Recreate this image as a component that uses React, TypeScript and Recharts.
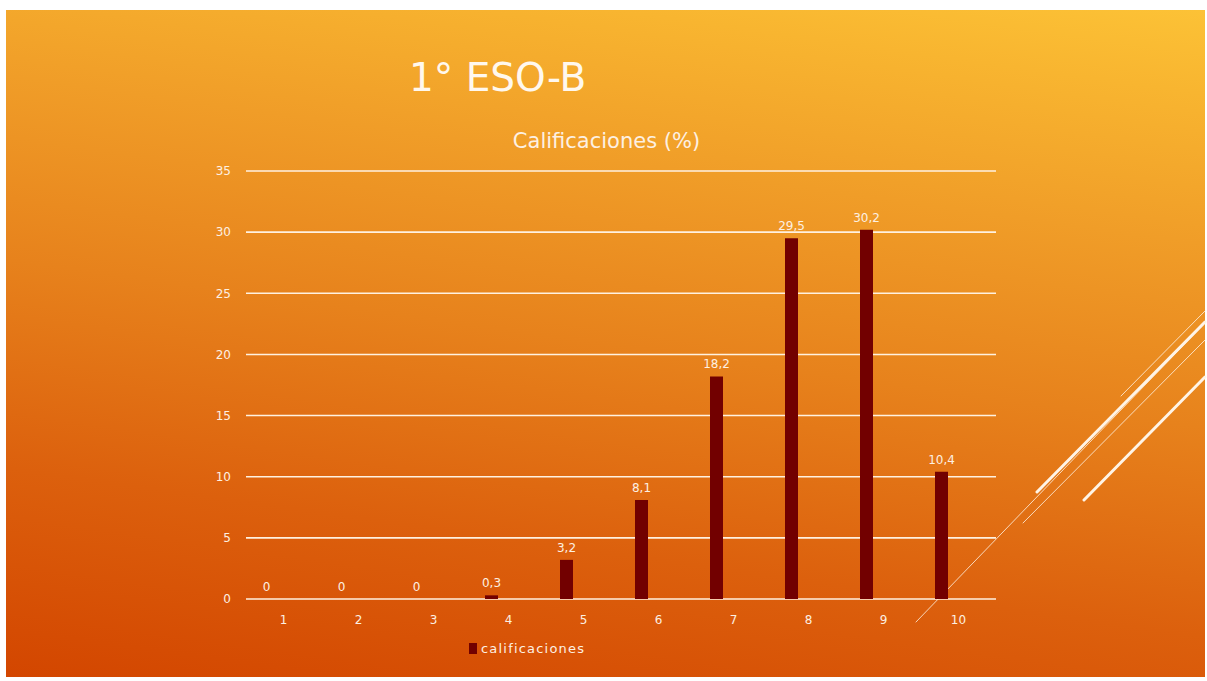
import React from 'react';
import { Bar, BarChart, CartesianGrid, LabelList, Legend, XAxis, YAxis } from 'recharts';

// Notas de 1 a 10 y porcentaje de alumnos en cada una
const notas = ['1', '2', '3', '4', '5', '6', '7', '8', '9', '10'];
const calificaciones = [0, 0, 0, 0.3, 3.2, 8.1, 18.2, 29.5, 30.2, 10.4];
// serie vacía del original (sólo ocupa su hueco junto a la barra)
const serieVacia = [null, null, null, null, null, null, null, null, null, null];
const ticksY = [0, 5, 10, 15, 20, 25, 30, 35];

const data = notas.map((nota, i) => ({
  nota,
  calificaciones: calificaciones[i],
  vacia: serieVacia[i],
}));

const FONT = '"DejaVu Sans", sans-serif';
const TEXT = '#FDF0E2';
const BAR = '#720000';

const formatComa = (v: unknown) => (v == null ? '' : String(v).replace('.', ','));

function LeyendaCalificaciones() {
  return (
    <div style={{ display: 'flex', alignItems: 'center', fontFamily: FONT, fontSize: 13, lineHeight: '15px', color: TEXT, letterSpacing: 1.2 }}>
      <span style={{ display: 'inline-block', width: 8, height: 11, background: BAR, marginRight: 4 }} />
      calificaciones
    </div>
  );
}

export default function App() {
  return (
    <div style={{ position: 'absolute', left: 0, top: 0, width: 1207, height: 681, background: '#fff', overflow: 'hidden' }}>
      <div
        style={{
          position: 'absolute',
          left: 6,
          top: 10,
          width: 1199,
          height: 667,
          background:
            'linear-gradient(8deg, #D34600 0%, #DC600D 25%, #E7821C 50%, #F09D28 72%, #F8B530 90%, #FCC236 100%)',
        }}
      />
      {/* líneas decorativas de la plantilla */}
      <svg width={1207} height={681} style={{ position: 'absolute', left: 0, top: 0 }}>
        <g stroke="#FFF4E6" strokeLinecap="round">
          <line x1={1037} y1={492} x2={1205} y2={322} strokeWidth={3} />
          <line x1={1084} y1={500} x2={1205} y2={377} strokeWidth={3} />
          <line x1={916} y1={622} x2={1205} y2={323} strokeWidth={1} opacity={0.8} />
          <line x1={1023} y1={523} x2={1205} y2={340} strokeWidth={1} opacity={0.8} />
          <line x1={1121} y1={396} x2={1205} y2={311} strokeWidth={1} opacity={0.8} />
        </g>
      </svg>
      <div
        style={{
          position: 'absolute',
          left: 409,
          top: 53,
          fontFamily: FONT,
          fontSize: 39,
          color: '#FFF8EE',
          lineHeight: '50px',
          whiteSpace: 'nowrap',
        }}
      >
        1° ESO-B
      </div>
      <div
        style={{
          position: 'absolute',
          left: 0,
          width: 1213,
          top: 127,
          textAlign: 'center',
          fontFamily: FONT,
          fontSize: 21,
          color: TEXT,
          lineHeight: '28px',
          whiteSpace: 'nowrap',
        }}
      >
        Calificaciones (%)
      </div>
      <div style={{ position: 'absolute', left: 0, top: 0 }}>
        <BarChart
          width={1207}
          height={681}
          data={data}
          margin={{ top: 171, right: 211, bottom: 37, left: 206 }}
          barSize={13}
          barGap={22}
        >
          <CartesianGrid vertical={false} stroke="#FFF1E0" strokeWidth={1.6} />
          <XAxis
            dataKey="nota"
            axisLine={false}
            tickLine={false}
            tickMargin={10}
            height={30}
            tick={{ fill: TEXT, fontSize: 12, fontFamily: FONT }}
          />
          <YAxis
            domain={[0, 35]}
            ticks={ticksY}
            axisLine={false}
            tickLine={false}
            tickMargin={9}
            width={40}
            tick={{ fill: TEXT, fontSize: 12, fontFamily: FONT }}
          />
          <Legend
            layout="vertical"
            align="center"
            verticalAlign="bottom"
            wrapperStyle={{ left: 469, top: 641, width: 'auto', height: 'auto' }}
            content={() => <LeyendaCalificaciones />}
          />
          <Bar
            dataKey="calificaciones"
            fill={BAR}
            minPointSize={(v: number) => (v === 0 ? 0.01 : 0)}
            isAnimationActive={false}
          >
            <LabelList
              dataKey="calificaciones"
              position="top"
              offset={8}
              formatter={formatComa}
              style={{ fill: TEXT, fontSize: 12, fontFamily: FONT }}
            />
          </Bar>
          <Bar dataKey="vacia" fill={BAR} legendType="none" isAnimationActive={false} />
        </BarChart>
      </div>
    </div>
  );
}
